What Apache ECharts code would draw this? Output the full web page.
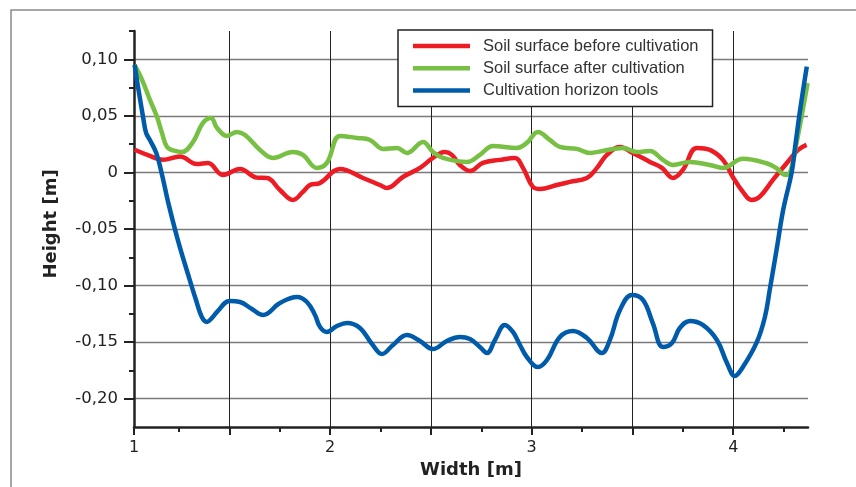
<!DOCTYPE html>
<html><head><meta charset="utf-8">
<script src="https://cdn.jsdelivr.net/npm/echarts@6/dist/echarts.min.js"></script>
<style>html,body{margin:0;padding:0;background:#fff}#c{width:856px;height:487px}</style>
</head><body><div id="c"></div>
<script>
const seriesNames = ['Soil surface before cultivation', 'Soil surface after cultivation', 'Cultivation horizon tools'];
const seriesColors = ['#ed1c24', '#77c043', '#005baa'];

const redX = [1.03,1.106,1.171,1.255,1.338,1.394,1.468,1.553,1.637,1.687,1.751,1.816,1.865,1.900,1.950,2.049,2.163,2.247,2.282,2.361,2.446,2.510,2.569,2.604,2.644,2.694,2.758,2.842,2.917,2.957,3.006,3.041,3.125,3.190,3.274,3.324,3.373,3.438,3.502,3.587,3.646,3.701,3.750,3.820,3.884,3.949,3.998,4.048,4.091,4.132,4.197,4.265,4.322,4.364];
const redY = [0.020,0.0146,0.0111,0.0141,0.0075,0.0084,-0.0022,0.0031,-0.0046,-0.0049,-0.0155,-0.0243,-0.0172,-0.0111,-0.0093,0.0031,-0.0049,-0.0111,-0.0137,-0.0040,0.0040,0.0128,0.0181,0.0155,0.0066,0.0013,0.0084,0.0111,0.0128,0.0040,-0.0128,-0.0146,-0.0111,-0.0084,-0.0049,0.0040,0.0155,0.0225,0.0172,0.0093,0.0040,-0.0049,0.0022,0.0217,0.0199,0.0111,-0.0040,-0.0172,-0.0243,-0.0214,-0.0066,0.0081,0.0199,0.0243];

const greenX = [1.03,1.067,1.106,1.141,1.166,1.191,1.230,1.265,1.320,1.369,1.409,1.439,1.488,1.538,1.578,1.652,1.716,1.816,1.865,1.935,1.984,2.049,2.133,2.198,2.262,2.332,2.381,2.461,2.510,2.560,2.679,2.743,2.808,2.927,2.976,3.031,3.090,3.140,3.224,3.289,3.353,3.453,3.522,3.587,3.651,3.701,3.785,3.884,3.949,4.048,4.165,4.215,4.257,4.281,4.314,4.369];
const greenY = [0.095,0.0818,0.0641,0.0491,0.0349,0.0225,0.0190,0.0181,0.0270,0.0438,0.0482,0.0393,0.0323,0.0358,0.0331,0.0199,0.0128,0.0181,0.0155,0.0040,0.0084,0.0323,0.0305,0.0287,0.0208,0.0217,0.0172,0.0270,0.0181,0.0128,0.0093,0.0155,0.0234,0.0217,0.0261,0.0358,0.0287,0.0225,0.0208,0.0172,0.0190,0.0217,0.0181,0.0190,0.0111,0.0066,0.0093,0.0066,0.0040,0.0120,0.0081,0.0037,-0.0022,-0.0004,0.026,0.079];

const blueX = [1.03,1.052,1.072,1.087,1.106,1.138,1.166,1.196,1.245,1.295,1.335,1.364,1.389,1.414,1.439,1.503,1.553,1.612,1.667,1.751,1.836,1.885,1.925,1.950,1.984,2.034,2.084,2.148,2.208,2.257,2.312,2.381,2.446,2.510,2.579,2.644,2.694,2.743,2.778,2.818,2.867,2.907,2.942,2.976,3.031,3.076,3.140,3.205,3.274,3.348,3.388,3.438,3.497,3.552,3.601,3.651,3.696,3.735,3.785,3.849,3.919,3.969,4.008,4.048,4.117,4.157,4.182,4.215,4.248,4.290,4.307,4.332,4.365];
const blueY = [0.095,0.070,0.049,0.035,0.0287,0.017,-0.002,-0.026,-0.060,-0.090,-0.113,-0.128,-0.1322,-0.1286,-0.1233,-0.1136,-0.1145,-0.1207,-0.1260,-0.1154,-0.1101,-0.1145,-0.1260,-0.1366,-0.1410,-0.1357,-0.1331,-0.1375,-0.1516,-0.1605,-0.1525,-0.1437,-0.1490,-0.1561,-0.1490,-0.1454,-0.1472,-0.1543,-0.1596,-0.1481,-0.1348,-0.1410,-0.1525,-0.1631,-0.1720,-0.1658,-0.1454,-0.1401,-0.1463,-0.1596,-0.1481,-0.1216,-0.1083,-0.1127,-0.1331,-0.1543,-0.1508,-0.1375,-0.1313,-0.1348,-0.1481,-0.1684,-0.1799,-0.1720,-0.150,-0.128,-0.103,-0.0685,-0.033,0.000,0.0225,0.0553,0.0935];

const xMin = 1.027, xMax = 4.371;
const yMin = -0.225, yMax = 0.125;
const xMajorTicks = [1.027, 1.5, 2, 2.5, 3, 3.5, 4];
const xMinorTicks = [1.25, 1.75, 2.25, 2.75, 3.25, 3.75, 4.25];
const xLabelValues = [1.027, 2, 3, 4];
const xLabelTexts = ['1', '2', '3', '4'];
const yMajorTicks = [-0.2, -0.15, -0.1, -0.05, 0, 0.05, 0.1];
const yMinorTicks = [-0.175, -0.125, -0.075, -0.025, 0.025, 0.075, 0.125];
const yLabelTexts = ['-0,20', '-0,15', '-0,10', '-0,05', '0', '0,05', '0,10'];

const zip = (xs, ys) => xs.map((x, i) => [x, ys[i]]);
const seriesData = [zip(redX, redY), zip(greenX, greenY), zip(blueX, blueY)];

const axisColor = '#222';
const chart = echarts.init(document.getElementById('c'), null, {renderer: 'canvas'});
chart.setOption({
  backgroundColor: '#fff',
  animation: false,
  grid: {left: 134, top: 31, width: 674, height: 396, containLabel: false},
  xAxis: [{
    type: 'value', min: xMin, max: xMax, position: 'bottom',
    axisLine: {show: true, onZero: false, lineStyle: {color: axisColor, width: 2.5}},
    axisTick: {show: true, customValues: xMajorTicks, inside: false, length: 8, lineStyle: {color: axisColor, width: 2}},
    axisLabel: {show: true, customValues: xLabelValues, margin: 13, color: '#222', fontSize: 16, fontFamily: 'DejaVu Sans',
      formatter: v => { const i = xLabelValues.findIndex(t => Math.abs(t - v) < 1e-6); return i >= 0 ? xLabelTexts[i] : ''; }},
    splitLine: {show: true, lineStyle: {color: '#222', width: 1}},
    name: 'Width [m]', nameLocation: 'middle', nameGap: 30,
    nameTextStyle: {fontFamily: 'DejaVu Sans', fontWeight: 'bold', fontSize: 18, color: '#222'}
  }, {
    type: 'value', min: xMin, max: xMax, position: 'bottom', offset: 0,
    axisLine: {show: false, onZero: false},
    axisTick: {show: true, customValues: xMinorTicks, length: 5, lineStyle: {color: axisColor, width: 2}},
    axisLabel: {show: false}, splitLine: {show: false}
  }],
  yAxis: [{
    type: 'value', min: yMin, max: yMax, position: 'left',
    axisLine: {show: true, onZero: false, lineStyle: {color: axisColor, width: 2.5}},
    axisTick: {show: true, customValues: yMajorTicks, length: 10, lineStyle: {color: axisColor, width: 2}},
    axisLabel: {show: true, customValues: yMajorTicks, margin: 16, color: '#222', fontSize: 16.5, fontFamily: 'DejaVu Sans',
      formatter: v => { const i = yMajorTicks.findIndex(t => Math.abs(t - v) < 1e-6); return i >= 0 ? yLabelTexts[i] : ''; }},
    splitLine: {show: true, lineStyle: {color: '#7a7a7a', width: 1.4}},
    name: 'Height [m]', nameLocation: 'middle', nameGap: 74, nameRotate: 90,
    nameTextStyle: {fontFamily: 'DejaVu Sans', fontWeight: 'bold', fontSize: 18, color: '#222', padding: [0, 0, 0, 10]}
  }, {
    type: 'value', min: yMin, max: yMax, position: 'left', offset: 0,
    axisLine: {show: false, onZero: false},
    axisTick: {show: true, customValues: yMinorTicks, length: 5, lineStyle: {color: axisColor, width: 2}},
    axisLabel: {show: false}, splitLine: {show: false}
  }],
  legend: {
    orient: 'vertical', left: 398, top: 30,
    backgroundColor: '#fff', borderColor: '#222', borderWidth: 1.5, borderRadius: 0,
    padding: [7, 14, 7, 15], itemGap: 4.2, itemWidth: 57, itemHeight: 4.5, icon: 'rect',
    textStyle: {fontFamily: 'Liberation Sans', fontSize: 16.5, color: '#333', lineHeight: 18, padding: [0, 0, 0, 8]},
    data: seriesNames
  },
  graphic: [{
    type: 'polyline', silent: true,
    shape: {points: [[11, 487], [11, 10], [856, 10]]},
    style: {stroke: '#8a8a8a', lineWidth: 1.5, fill: null}
  }],
  series: seriesNames.map((n, i) => ({
    name: n, type: 'line', data: seriesData[i], smooth: 0.4, showSymbol: false, symbol: 'none',
    xAxisIndex: 0, yAxisIndex: 0, z: 3 + i,
    lineStyle: {color: seriesColors[i], width: 4.5}, itemStyle: {color: seriesColors[i]}
  }))
});
</script>
</body></html>
